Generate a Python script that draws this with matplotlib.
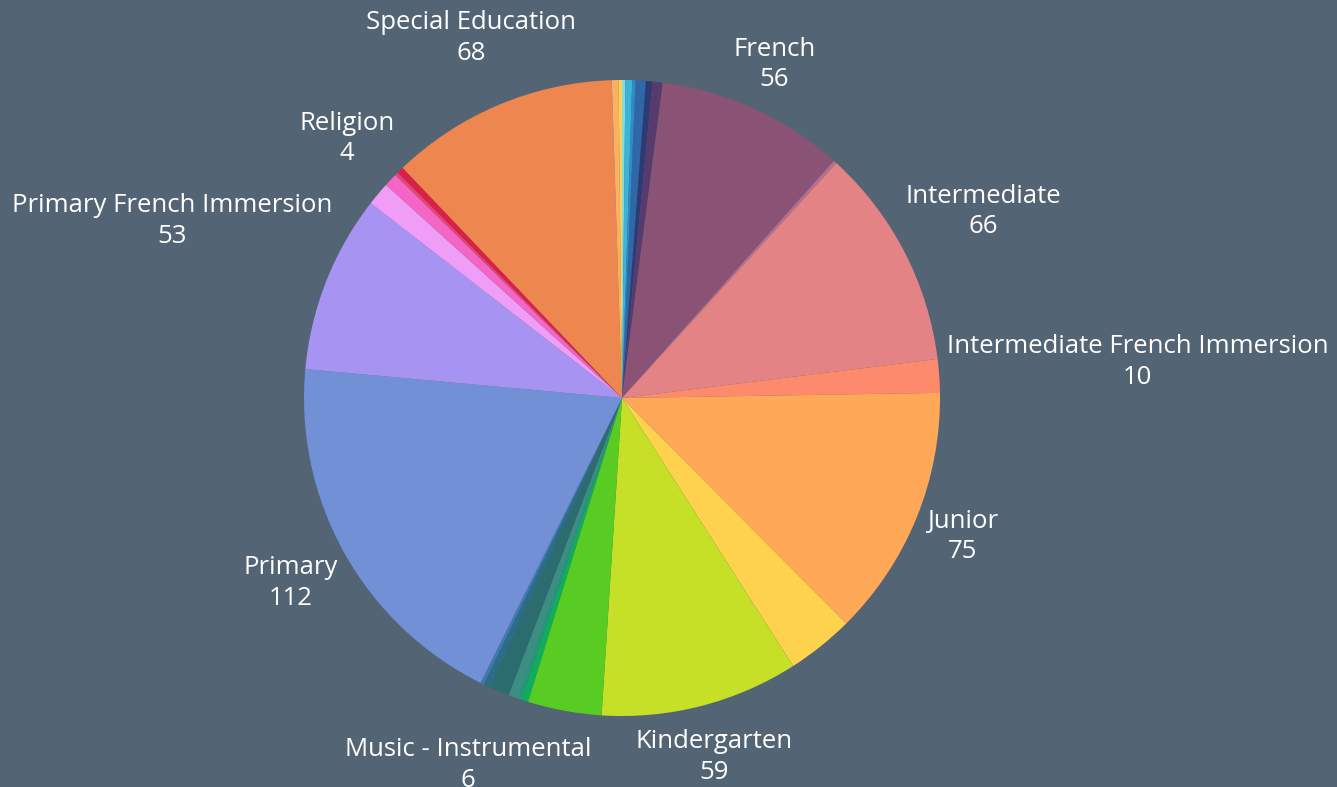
import numpy as np
import matplotlib.pyplot as plt

# slices clockwise from 12 o'clock; empty name = slice shown without a label
categories = ["", "", "", "", "", "",
              "French", "", "Intermediate", "Intermediate French Immersion",
              "Junior", "", "Kindergarten", "", "", "", "",
              "Music - Instrumental", "", "", "Primary",
              "Primary French Immersion", "", "Religion", "", "",
              "Special Education", "", ""]
values = [1, 2, 1, 3, 2, 3,
          56, 1, 66, 10,
          75, 20, 59, 22, 2, 1, 3,
          6, 2, 1, 112,
          53, 7, 4, 1, 2,
          68, 2, 1]
colors = ["#86dbe3", "#3bb4d8", "#2f8cc6", "#2f68a8", "#2c3b73", "#573a6e",
          "#8a5274", "#b86f8a", "#e38385", "#fd8a6c",
          "#ffa858", "#ffd24e", "#c6e027", "#58cc22", "#10ae5a", "#1f9b7a", "#3b8f82",
          "#2b6d6e", "#2b6c86", "#3b7bb0", "#7190d6",
          "#a794f2", "#ef9df7", "#f565c5", "#e84577", "#db1f45",
          "#ee8650", "#fbb065", "#fdd34d"]

bg = "#536474"
cx, cy, r = 622, 389, 318

fig = plt.figure(figsize=(13.37, 7.87), dpi=100, facecolor=bg)
ax = fig.add_axes([0, 0, 1, 1])
ax.set_facecolor(bg)
wedges, _ = ax.pie(values, colors=colors, startangle=90, counterclock=False,
                   center=(cx, cy), radius=r, wedgeprops=dict(linewidth=0),
                   frame=False)
ax.set_aspect("auto")
ax.set_xlim(0, 1337)
ax.set_ylim(0, 787)
ax.axis("off")

# labels sit just outside the rim, pushed out by their own size
renderer = fig.canvas.get_renderer()
r0 = r * 1.02
for w, cat, val in zip(wedges, categories, values):
    if not cat:
        continue
    ang = np.deg2rad((w.theta1 + w.theta2) / 2)
    dx, dy = np.cos(ang), np.sin(ang)
    t = ax.text(0, 0, f"{cat}\n{val}", ha="center", va="center",
                multialignment="center", color="white", fontsize=18.5,
                family=["Open Sans", "DejaVu Sans"], linespacing=1.3)
    bb = t.get_window_extent(renderer)
    half = abs(dx) * bb.width / 2 + abs(dy) * bb.height / 2
    t.set_position((cx + (r0 + half) * dx, cy + (r0 + half) * dy))

fig.savefig("out.png", dpi=100, facecolor=bg)
